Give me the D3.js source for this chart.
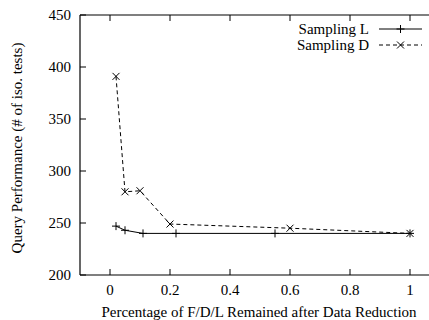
<!DOCTYPE html>
<html>
<head>
<meta charset="utf-8">
<script src="https://cdn.jsdelivr.net/npm/d3@7"></script>
<style>
  body { margin: 0; background: #fff; }
  svg { display: block; }
  text { font-family: "Liberation Serif", "DejaVu Serif", serif; fill: #000; }
</style>
</head>
<body>
<div id="chart"></div>
<script>
// data
const xTicks = [0, 0.2, 0.4, 0.6, 0.8, 1];
const yTicks = [200, 250, 300, 350, 400, 450];

const lX = [0.02, 0.05, 0.11, 0.22, 0.55, 1.0];
const lY = [247, 243, 240, 240, 240, 240];

const dX = [0.02, 0.05, 0.10, 0.20, 0.60, 1.0];
const dY = [391, 280, 281, 249, 245, 240];

const seriesNames = ["Sampling L", "Sampling D"];

const W = 429, H = 320;
const margin = {top: 15, left: 80, bottom: 45};
const fs = 15;

const svg = d3.select("#chart").append("svg")
    .attr("width", W)
    .attr("height", H);

// x range runs past the right edge, like the cropped original
const x = d3.scaleLinear().domain([-0.1, 1.1]).range([margin.left, margin.left + 360]);
const y = d3.scaleLinear().domain([200, 450]).range([H - margin.bottom, margin.top]);

const x0 = x.range()[0], x1 = x.range()[1];
const y0 = y.range()[0], y1 = y.range()[1];
const tick = 6;

// frame
const frame = svg.append("g").attr("stroke", "#000").attr("stroke-width", 1.2);
frame.append("line").attr("x1", x0).attr("x2", x1).attr("y1", y0).attr("y2", y0);
frame.append("line").attr("x1", x0).attr("x2", x1).attr("y1", y1).attr("y2", y1);
frame.append("line").attr("x1", x0).attr("x2", x0).attr("y1", y0).attr("y2", y1);

// inward ticks
const ticks = svg.append("g").attr("stroke", "#000").attr("stroke-width", 1);
xTicks.forEach(v => {
    ticks.append("line").attr("x1", x(v)).attr("x2", x(v)).attr("y1", y0).attr("y2", y0 - tick);
    ticks.append("line").attr("x1", x(v)).attr("x2", x(v)).attr("y1", y1).attr("y2", y1 + tick);
});
yTicks.forEach(v => {
    ticks.append("line").attr("x1", x0).attr("x2", x0 + tick).attr("y1", y(v)).attr("y2", y(v));
});

// tick labels
svg.append("g").selectAll("text").data(xTicks).join("text")
    .attr("x", d => x(d))
    .attr("y", y0 + 15)
    .attr("dy", "0.35em")
    .attr("text-anchor", "middle")
    .attr("font-size", fs)
    .text(d => d3.format("")(d));

svg.append("g").selectAll("text").data(yTicks).join("text")
    .attr("x", x0 - 9)
    .attr("y", d => y(d))
    .attr("dy", "0.35em")
    .attr("text-anchor", "end")
    .attr("font-size", fs)
    .text(d => d);

// axis titles
svg.append("text")
    .attr("x", 259)
    .attr("y", 312)
    .attr("dy", "0.35em")
    .attr("text-anchor", "middle")
    .attr("font-size", fs)
    .text("Percentage of F/D/L Remained after Data Reduction");

svg.append("text")
    .attr("transform", `translate(17,148) rotate(-90)`)
    .attr("dy", "0.35em")
    .attr("text-anchor", "middle")
    .attr("font-size", fs)
    .text("Query Performance (# of iso. tests)");

// lines
const lData = lX.map((v, i) => [v, lY[i]]);
const dData = dX.map((v, i) => [v, dY[i]]);
const line = d3.line().x(d => x(d[0])).y(d => y(d[1]));

svg.append("path").datum(lData)
    .attr("d", line).attr("fill", "none").attr("stroke", "#000").attr("stroke-width", 1);
svg.append("path").datum(dData)
    .attr("d", line).attr("fill", "none").attr("stroke", "#000").attr("stroke-width", 1)
    .attr("stroke-dasharray", "4,3");

const plus = (g, cx, cy, s) => {
    g.append("line").attr("x1", cx - s).attr("x2", cx + s).attr("y1", cy).attr("y2", cy);
    g.append("line").attr("x1", cx).attr("x2", cx).attr("y1", cy - s).attr("y2", cy + s);
};
const cross = (g, cx, cy, s) => {
    g.append("line").attr("x1", cx - s).attr("x2", cx + s).attr("y1", cy - s).attr("y2", cy + s);
    g.append("line").attr("x1", cx - s).attr("x2", cx + s).attr("y1", cy + s).attr("y2", cy - s);
};

const marks = svg.append("g").attr("stroke", "#000").attr("stroke-width", 1);
lData.forEach(d => plus(marks, x(d[0]), y(d[1]), 4));
dData.forEach(d => cross(marks, x(d[0]), y(d[1]), 3.5));

// legend
const leg = svg.append("g");
const legRows = [29, 45];
seriesNames.forEach((name, i) => {
    leg.append("text")
        .attr("x", 369)
        .attr("y", legRows[i])
        .attr("dy", "0.35em")
        .attr("text-anchor", "end")
        .attr("font-size", fs)
        .text(name);
    const ln = leg.append("line")
        .attr("x1", 379).attr("x2", 422)
        .attr("y1", legRows[i]).attr("y2", legRows[i])
        .attr("stroke", "#000").attr("stroke-width", 1);
    if (i === 1) ln.attr("stroke-dasharray", "4,3");
    const g = leg.append("g").attr("stroke", "#000").attr("stroke-width", 1);
    if (i === 0) plus(g, 400.5, legRows[i], 4);
    else cross(g, 400.5, legRows[i], 3.5);
});
</script>
</body>
</html>
